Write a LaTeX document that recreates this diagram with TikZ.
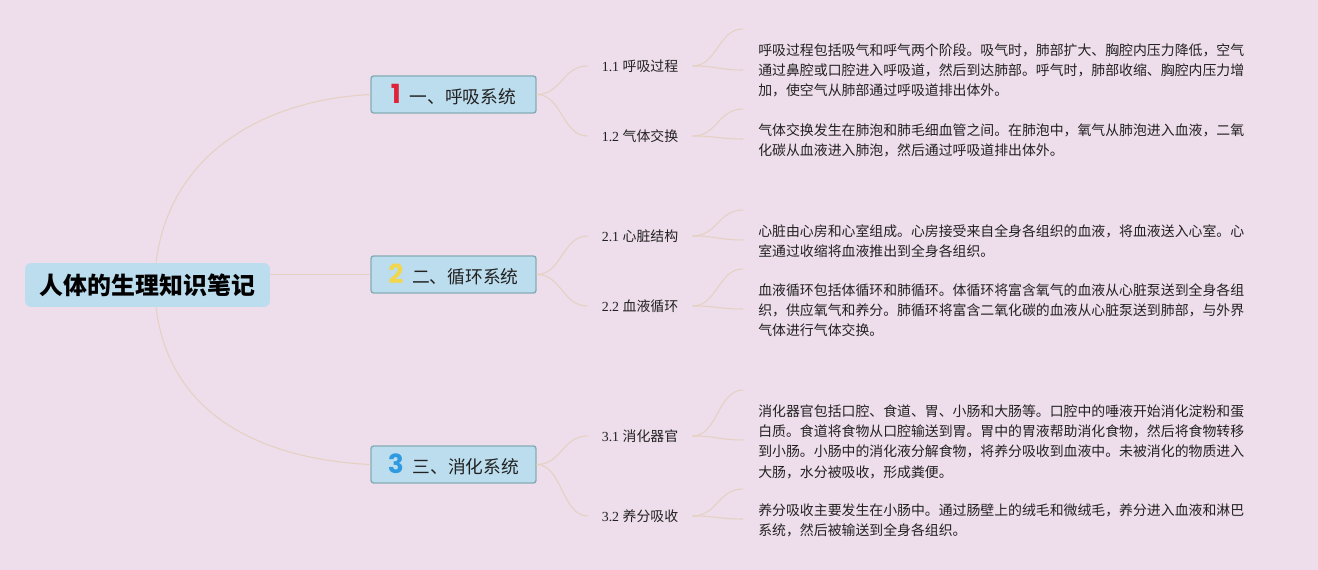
\documentclass[tikz,border=0pt]{standalone}
\usepackage{fontspec}
\setmainfont{Liberation Serif}
\newfontfamily\cjk{Noto Sans CJK SC}
\newfontfamily\numfont{Poppins}

\definecolor{bgpink}{HTML}{EEDDEB}
\definecolor{rootblue}{HTML}{BCDDEE}
\definecolor{topicblue}{HTML}{BCDDEE}
\definecolor{topicedge}{HTML}{84ACB5}
\definecolor{linkbeige}{HTML}{E5D1C1}
\definecolor{inkgray}{HTML}{222222}
\definecolor{numred}{HTML}{DE2239}
\definecolor{numyellow}{HTML}{F2D64C}
\definecolor{numblue}{HTML}{2E9BE0}

\newcommand{\topicnum}[2]{{\numfont\bfseries\fontsize{15}{15}\selectfont\color{#1}#2}\hspace{5pt}}

\tikzset{
  rootbox/.style={fill=rootblue, rounded corners=3.5pt, minimum width=4.9cm,
    minimum height=0.88cm, font=\cjk\bfseries\fontsize{13.6}{16}\selectfont},
  topicbox/.style={draw=topicedge, line width=0.8pt, fill=topicblue,
    rounded corners=1.5pt, minimum width=3.3cm, minimum height=0.74cm,
    text=inkgray, font=\cjk\fontsize{10.1}{12}\selectfont},
  subtopic/.style={inner xsep=0.28cm, text=inkgray,
    font=\fontsize{7.9}{10}\selectfont},
  leafnote/.style={anchor=north west, align=left, inner xsep=0.3cm,
    inner ysep=0.28cm, text=inkgray, font=\cjk\fontsize{7.9}{11.6}\selectfont},
  link/.style={draw=linkbeige, line width=0.6pt}
}

\begin{document}
\begin{tikzpicture}[x=0.02cm, y=-0.02cm]
    % 背景
    \fill[bgpink] (0,0) rectangle (1318,570);
    \useasboundingbox (0,0) rectangle (1318,570);

    % 中心主题
    \node[rootbox] (root) at (147.5,285) {人体的生理知识笔记};

    % 一级分支
    \node[topicbox] (b1) at (453.5,94.5) {\topicnum{numred}{1}一、呼吸系统};
    \node[topicbox] (b2) at (453.5,274.5) {\topicnum{numyellow}{2}二、循环系统};
    \node[topicbox] (b3) at (453.5,464.5) {\topicnum{numblue}{3}三、消化系统};

    \draw[link] ([xshift=0.17cm]root.north) .. controls +(14,-113) and +(-101,5) .. (b1.west);
    \draw[link] (b2.west -| root.east) -- (b2.west);
    \draw[link] ([xshift=0.17cm]root.south) .. controls +(14,113) and +(-101,-5) .. (b3.west);

    % 二级分支
    \node[subtopic] (s11) at (640,66) {1.1 {\cjk 呼吸过程}};
    \node[subtopic] (s12) at (640,136) {1.2 {\cjk 气体交换}};
    \node[subtopic] (s21) at (640,236) {2.1 {\cjk 心脏结构}};
    \node[subtopic] (s22) at (640,306) {2.2 {\cjk 血液循环}};
    \node[subtopic] (s31) at (640,436) {3.1 {\cjk 消化器官}};
    \node[subtopic] (s32) at (640,516) {3.2 {\cjk 养分吸收}};

    \foreach \b/\s in {b1/s11, b1/s12, b2/s21, b2/s22, b3/s31, b3/s32}
        \draw[link] (\b.east) .. controls +(25,0) and +(-25,0) .. (\s.west);

    % 说明文字
    \node[leafnote] (l11) at (743,29) {呼吸过程包括吸气和呼气两个阶段。吸气时，肺部扩大、胸腔内压力降低，空气\\
        通过鼻腔或口腔进入呼吸道，然后到达肺部。呼气时，肺部收缩、胸腔内压力增\\
        加，使空气从肺部通过呼吸道排出体外。};
    \node[leafnote] (l12) at (743,109) {气体交换发生在肺泡和肺毛细血管之间。在肺泡中，氧气从肺泡进入血液，二氧\\
        化碳从血液进入肺泡，然后通过呼吸道排出体外。};
    \node[leafnote] (l21) at (743,210) {心脏由心房和心室组成。心房接受来自全身各组织的血液，将血液送入心室。心\\
        室通过收缩将血液推出到全身各组织。};
    \node[leafnote] (l22) at (743,269) {血液循环包括体循环和肺循环。体循环将富含氧气的血液从心脏泵送到全身各组\\
        织，供应氧气和养分。肺循环将富含二氧化碳的血液从心脏泵送到肺部，与外界\\
        气体进行气体交换。};
    \node[leafnote] (l31) at (743,390) {消化器官包括口腔、食道、胃、小肠和大肠等。口腔中的唾液开始消化淀粉和蛋\\
        白质。食道将食物从口腔输送到胃。胃中的胃液帮助消化食物，然后将食物转移\\
        到小肠。小肠中的消化液分解食物，将养分吸收到血液中。未被消化的物质进入\\
        大肠，水分被吸收，形成粪便。};
    \node[leafnote] (l32) at (743,489) {养分吸收主要发生在小肠中。通过肠壁上的绒毛和微绒毛，养分进入血液和淋巴\\
        系统，然后被输送到全身各组织。};

    % 括线
    \coordinate (e11) at (743,70);
    \coordinate (e12) at (743,139);
    \coordinate (e21) at (743,240);
    \coordinate (e22) at (743,309);
    \coordinate (e31) at (743,440);
    \coordinate (e32) at (743,519);
    \foreach \n in {11,12,21,22,31,32} {
        \draw[link] (s\n.east) .. controls +(25,0) and +(-25,0) .. (l\n.north west);
        \draw[link] (s\n.east) .. controls +(25,0) and +(-25,0) .. (e\n);
    }
\end{tikzpicture}
\end{document}
